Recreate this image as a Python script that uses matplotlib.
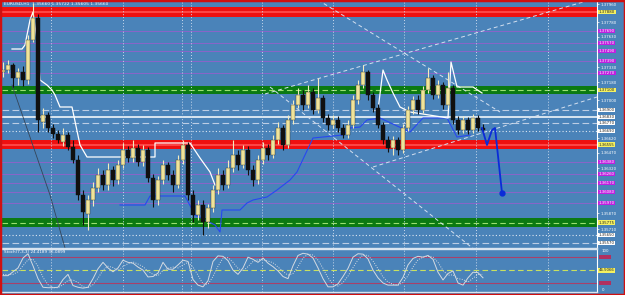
import numpy as np
import matplotlib.pyplot as plt
from matplotlib.transforms import blended_transform_factory
from matplotlib.patches import Rectangle

# ---- candle data, in points (1 point = 0.0001) ----
opens = [13728, 13730, 13735, 13722, 13728, 13720, 13760, 13782, 13678, 13685, 13672, 13666, 13658, 13665, 13653, 13640,
         13605, 13586, 13600, 13612, 13625, 13615, 13630, 13620, 13635, 13650, 13642, 13652, 13638, 13650, 13622, 13600,
         13620, 13635, 13625, 13615, 13640, 13655, 13605, 13585, 13595, 13578, 13592, 13610, 13625, 13615, 13632, 13645,
         13635, 13650, 13630, 13620, 13640, 13652, 13645, 13660, 13672, 13655, 13680, 13695, 13705, 13695, 13708, 13690,
         13702, 13682, 13675, 13680, 13672, 13665, 13675, 13700, 13715, 13728, 13705, 13692, 13675, 13660, 13652, 13660,
         13650, 13672, 13690, 13700, 13690, 13710, 13722, 13705, 13715, 13695, 13712, 13680, 13670, 13680, 13670, 13682,
         13672]
closes = [13730, 13735, 13722, 13728, 13720, 13760, 13782, 13680, 13685, 13672, 13666, 13660, 13665, 13653, 13640, 13605,
          13588, 13600, 13612, 13625, 13615, 13630, 13620, 13635, 13650, 13642, 13652, 13638, 13650, 13622, 13600, 13620,
          13635, 13625, 13615, 13640, 13655, 13605, 13585, 13595, 13578, 13592, 13610, 13625, 13615, 13632, 13645, 13635,
          13650, 13630, 13620, 13640, 13652, 13645, 13660, 13672, 13655, 13680, 13695, 13705, 13695, 13708, 13690, 13702,
          13682, 13675, 13680, 13672, 13665, 13675, 13700, 13715, 13728, 13705, 13692, 13675, 13660, 13652, 13660, 13650,
          13672, 13690, 13700, 13690, 13710, 13722, 13705, 13715, 13695, 13712, 13680, 13670, 13680, 13670, 13682, 13672,
          13670]
highs = [13738, 13740, 13737, 13732, 13734, 13765, 13797, 13786, 13692, 13688, 13676, 13670, 13672, 13668, 13660, 13645,
         13610, 13605, 13618, 13632, 13630, 13637, 13634, 13640, 13657, 13654, 13660, 13656, 13655, 13653, 13626, 13624,
         13640, 13638, 13630, 13645, 13660, 13658, 13610, 13600, 13600, 13596, 13615, 13632, 13630, 13640, 13660, 13650,
         13655, 13654, 13635, 13645, 13658, 13656, 13665, 13678, 13675, 13685, 13700, 13712, 13710, 13715, 13712, 13722,
         13705, 13686, 13685, 13684, 13676, 13680, 13705, 13720, 13735, 13730, 13708, 13696, 13678, 13664, 13664, 13663,
         13676, 13694, 13704, 13705, 13714, 13732, 13725, 13720, 13718, 13728, 13715, 13684, 13684, 13683, 13686, 13685,
         13676]
lows = [13723, 13727, 13713, 13715, 13714, 13716, 13758, 13668, 13672, 13668, 13662, 13657, 13654, 13650, 13637, 13600,
        13575, 13570, 13594, 13608, 13610, 13610, 13614, 13616, 13632, 13638, 13638, 13634, 13634, 13618, 13593, 13595,
        13616, 13620, 13608, 13612, 13636, 13600, 13578, 13580, 13565, 13572, 13588, 13606, 13610, 13612, 13628, 13630,
        13632, 13625, 13614, 13616, 13636, 13640, 13642, 13656, 13650, 13652, 13676, 13692, 13690, 13692, 13686, 13687,
        13678, 13670, 13672, 13668, 13662, 13662, 13672, 13696, 13712, 13700, 13688, 13672, 13656, 13648, 13645, 13645,
        13647, 13669, 13686, 13686, 13687, 13707, 13701, 13702, 13691, 13692, 13676, 13666, 13667, 13666, 13667, 13669,
        13667]

# stochastic (7,3,3)
stoch_main = [37, 37, 46, 55, 78, 88, 60, 30, 10, 9, 9, 10, 28, 40, 14, 10, 8, 10, 30, 53,
              68, 55, 46, 55, 73, 68, 66, 57, 50, 34, 35, 43, 68, 52, 52, 62, 73, 70, 28, 15,
              11, 25, 70, 83, 82, 72, 50, 40, 55, 80, 75, 68, 78, 66, 58, 48, 35, 30, 60, 84,
              89, 87, 78, 55, 30, 11, 11, 18, 35, 54, 80, 88, 87, 76, 50, 32, 20, 15, 15, 15,
              33, 62, 77, 82, 80, 84, 75, 45, 27, 42, 48, 20, 15, 32, 45, 44, 32]
stoch_signal = [40, 39, 40, 46, 60, 74, 75, 59, 33, 16, 9, 9, 16, 26, 27, 21, 11, 9, 16, 31,
                50, 59, 56, 49, 58, 65, 69, 64, 58, 47, 40, 37, 49, 54, 57, 55, 62, 68, 57, 38,
                18, 17, 35, 59, 78, 79, 68, 54, 48, 58, 70, 74, 74, 71, 67, 57, 47, 38, 42, 58,
                78, 87, 85, 73, 54, 32, 17, 13, 21, 36, 56, 74, 85, 84, 71, 53, 34, 22, 17, 15,
                21, 37, 57, 74, 80, 82, 80, 68, 49, 38, 39, 30, 28, 22, 31, 40, 40]

# indicator lines (bar index, points)
white_x1 = [1.8, 3.8, 4.4, 5.4, 6.0, 6.8, 7.4, 8.8, 9.8, 10.4, 11.4, 13.8, 15.4, 16.8, 23.4, 30.4, 30.4, 37.4, 39.4, 41.4, 42.4]
white_y1 = [13751, 13751, 13755, 13780, 13788, 13760, 13720, 13715, 13710, 13705, 13693, 13693, 13655, 13643, 13643, 13643,
            13657, 13657, 13642, 13628, 13615]
white_x2 = [75.0, 76.0, 76.8, 78.0, 79.4, 81.4, 89.0, 89.6, 90.8, 94.0, 95.8]
white_y2 = [13690, 13730, 13720, 13707, 13693, 13688, 13682, 13738, 13713, 13713, 13707]
blue_x = [23.4, 28.4, 29.4, 36.4, 38.4, 42.4, 43.4, 43.8, 47.4, 48.8, 50.0, 52.8, 54.8, 57.4, 58.8, 62.0, 68.0, 69.4,
          71.4, 72.8, 75.4, 78.4, 81.4, 84.0, 88.8, 90.8, 93.4]
blue_y = [13595, 13595, 13604, 13604, 13585, 13575, 13568, 13590, 13590, 13597, 13600, 13603, 13610, 13620, 13628, 13662,
          13665, 13672, 13673, 13680, 13682, 13675, 13668, 13682, 13682, 13663, 13665]
fc_x = [95.8, 96.8, 97.8, 98.4, 99.8]
fc_y = [13672, 13655, 13670, 13672, 13607]

# trend lines
trend_lines = [((63.0, 13800), (99.4, 13688)),
               ((52.4, 13706), (117.4, 13800)),
               ((74.0, 13633), (118.8, 13703)),
               ((53.4, 13713), (94.4, 13550))]
dark_line = ((1.8, 13715), (9.4, 13605), (12.4, 13552))

# horizontal levels
red_zones = [(13783, 13793), (13651, 13660)]
green_zones = [(13706, 13714), (13573, 13582)]
purple_levels = [13769, 13757, 13749, 13739, 13727, 13638, 13626, 13617, 13608, 13597]
dash_levels = [13690, 13677, 13557]
dot_levels = [13669, 13565]
white_level = 13683
vlines_x = [9.6, 24.0, 35.8, 37.6, 51.8, 66.0, 80.2, 94.6, 109.0]
# plain price-scale labels (in the gaps between the marked levels)
scale_ticks = [13796, 13778, 13763, 13733, 13718, 13700, 13662, 13647, 13632, 13587, 13571]

BG = '#4A83B9'
W, H = 625, 295

fig = plt.figure(figsize=(W / 100, H / 100), dpi=100, facecolor=BG)
ax = fig.add_axes([2 / W, 47 / H, 595 / W, 248 / H], facecolor=BG)
sub = fig.add_axes([2 / W, 3 / H, 595 / W, 43 / H], facecolor=BG)

o = np.array(opens) / 1e4
c = np.array(closes) / 1e4
h = np.array(highs) / 1e4
l = np.array(lows) / 1e4
x = np.arange(len(o))
up = c >= o

# levels
for lo, hi in red_zones:
    ax.axhspan(lo / 1e4, hi / 1e4, color='#EE1010', lw=0, zorder=1)
    ax.axhline((lo + hi) / 2e4, color='#FF5050', lw=1.2, zorder=1)
for lo, hi in green_zones:
    ax.axhspan(lo / 1e4, hi / 1e4, color='#0B7A12', lw=0, zorder=1)
    ax.axhline((lo + hi) / 2e4, color='#9BE070', lw=0.8, ls=(0, (5, 3)), zorder=1)
for p in purple_levels:
    ax.axhline(p / 1e4, color='#9360CC', lw=0.6, zorder=1)
for p in dash_levels:
    ax.axhline(p / 1e4, color='#BCCDE4', lw=0.8, ls=(0, (6, 3)), zorder=1)
for p in dot_levels:
    ax.axhline(p / 1e4, color='#DCE6F2', lw=0.8, ls=(0, (1, 2)), zorder=1)
ax.axhline(white_level / 1e4, color='white', lw=1.1, zorder=1)
for v in vlines_x:
    ax.axvline(v, color='#C8D8EC', lw=0.7, ls=(0, (1, 2)), zorder=1)
    sub.axvline(v, color='#C8D8EC', lw=0.7, ls=(0, (1, 2)), zorder=1)

# trend lines
for (x0, y0), (x1, y1) in trend_lines:
    ax.plot([x0, x1], [y0 / 1e4, y1 / 1e4], color='#D4E0F0', lw=0.7, ls=(0, (4, 3)), zorder=2)
ax.plot([p[0] for p in dark_line], [p[1] / 1e4 for p in dark_line], color='#34455A', lw=0.6, zorder=2)

# indicators
ax.plot(blue_x, np.array(blue_y) / 1e4, color='#2848F0', lw=0.8, zorder=3)
ax.plot(white_x1, np.array(white_y1) / 1e4, color='white', lw=0.9, zorder=3)
ax.plot(white_x2, np.array(white_y2) / 1e4, color='white', lw=0.9, zorder=3)

# candles
ax.vlines(x[up], l[up], h[up], color='#F3ECC0', lw=0.8, zorder=4)
ax.vlines(x[~up], l[~up], h[~up], color='#111111', lw=0.8, zorder=4)
ax.bar(x[up], np.maximum((c - o)[up], 0.00008), bottom=o[up], width=0.62, color='#F0E49A',
       edgecolor='#3A3A2A', linewidth=0.3, zorder=5)
ax.bar(x[~up], np.maximum((o - c)[~up], 0.00008), bottom=c[~up], width=0.62, color='#101010',
       edgecolor='#101010', linewidth=0.3, zorder=5)

# forecast
ax.plot(fc_x, np.array(fc_y) / 1e4, color='#0A2BD8', lw=1.3, zorder=6)
ax.plot(fc_x[-1:], np.array(fc_y[-1:]) / 1e4, 'o', color='#0A2BD8', ms=3.5, zorder=6)

ax.set_xlim(-0.2, 118.8)
ax.set_ylim(1.3552, 1.3800)
ax.yaxis.tick_right()
ax.set_yticks([t / 1e4 for t in scale_ticks])
ax.set_yticklabels(['%.5f' % (t / 1e4) for t in scale_ticks])
ax.tick_params(axis='y', colors='white', labelsize=2.8, length=1.5, width=0.5, pad=1)
ax.set_xticks([])
for s in ['top', 'left']:
    ax.spines[s].set_visible(False)
ax.spines['right'].set_color('white')
ax.spines['right'].set_linewidth(0.8)
ax.spines['bottom'].set_color('#D8E4F0')
ax.spines['bottom'].set_linewidth(1.0)

# highlighted price labels
tr = blended_transform_factory(ax.transAxes, ax.transData)
for lo, hi in red_zones + green_zones:
    ax.text(1.003, (lo + hi) / 2e4, '%.5f' % ((lo + hi) / 2e4), transform=tr, fontsize=2.8, va='center',
            color='#222222', clip_on=False,
            bbox=dict(boxstyle='square,pad=0.12', fc='#F4F060', ec='none'), zorder=10)
for p in purple_levels:
    ax.text(1.003, p / 1e4, '%.5f' % (p / 1e4), transform=tr, fontsize=2.8, va='center', color='white',
            clip_on=False, bbox=dict(boxstyle='square,pad=0.12', fc='#C020E0', ec='none'), zorder=10)
for p in dash_levels + dot_levels + [white_level]:
    ax.text(1.003, p / 1e4, '%.5f' % (p / 1e4), transform=tr, fontsize=2.8, va='center', color='#222222',
            clip_on=False, bbox=dict(boxstyle='square,pad=0.12', fc='white', ec='none'), zorder=10)

ax.text(0.004, 0.992, 'EURUSD,H1  1.35660 1.35722 1.35605 1.35660', transform=ax.transAxes,
        fontsize=3.2, color='white', va='top', ha='left')

# stochastic sub window
sub.axhline(80, color='#A8406A', lw=0.8)
sub.axhline(20, color='#A8406A', lw=0.8)
sub.axhline(50, color='#C8E060', lw=0.8, ls=(0, (5, 3)))
sub.plot(x, stoch_main, color='#D4DAE2', lw=0.7)
sub.plot(x, stoch_signal, color='#D4DAE2', lw=0.7, ls=(0, (1, 1.5)))
sub.set_xlim(-0.2, 118.8)
sub.set_ylim(-1, 99)
sub.set_xticks([])
sub.set_yticks([])
sub.spines['left'].set_visible(False)
sub.spines['right'].set_color('white')
sub.spines['top'].set_color('#D8E4F0')
sub.spines['bottom'].set_color('#D8E4F0')
sub.spines['top'].set_linewidth(1.0)
sub.spines['bottom'].set_linewidth(1.0)
sub.text(0.004, 0.97, 'Stoch(7,3,3) 24.4189 36.0899', transform=sub.transAxes, fontsize=3,
         color='white', va='top')
str_ = blended_transform_factory(sub.transAxes, sub.transData)
sub.text(1.008, 99, '100', transform=str_, fontsize=2.8, color='white', va='top', clip_on=False)
sub.text(1.008, -1, '0', transform=str_, fontsize=2.8, color='white', va='bottom', clip_on=False)
for lvl in [80, 20]:
    sub.add_patch(Rectangle((1.004, lvl - 5), 0.02, 10, transform=str_, fc='#B03060', ec='none',
                            clip_on=False))
sub.text(1.003, 50, '46.5066', transform=str_, fontsize=2.8, va='center', color='#222222', clip_on=False,
         bbox=dict(boxstyle='square,pad=0.12', fc='#F4F060', ec='none'))

# red frame
fig.patches.append(Rectangle((0, 0), 1, 1, transform=fig.transFigure, fill=False,
                             edgecolor='#D01010', linewidth=2.5))

fig.savefig('out.png', dpi=100, facecolor=BG)
